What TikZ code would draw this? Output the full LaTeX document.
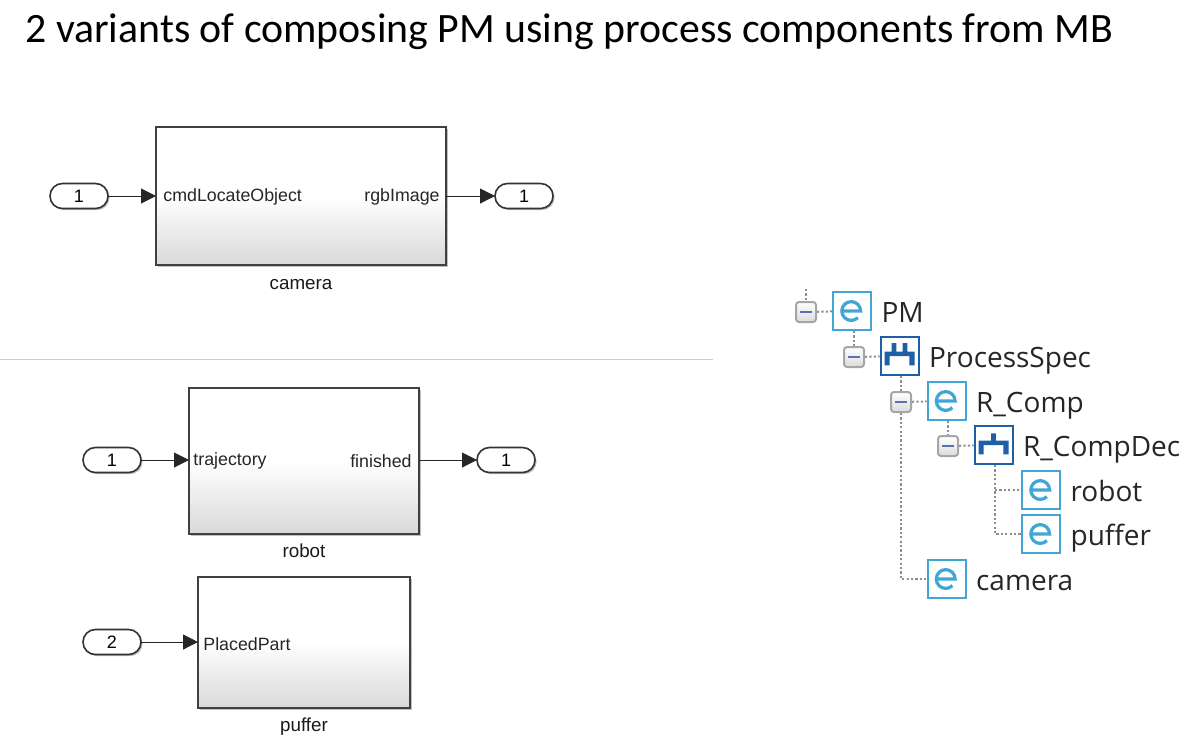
\documentclass[tikz,border=0pt]{standalone}
\usepackage{fontspec}
\setmainfont{Carlito}
\newfontfamily\blockfont{Liberation Sans}
\newfontfamily\treefont{Open Sans}
\usepackage{tikz}
\usetikzlibrary{arrows.meta,shapes.misc,positioning,shadows}
\definecolor{eblue}{HTML}{3FA6D6}
\definecolor{specblue}{HTML}{1F5FA6}
\definecolor{dotgray}{HTML}{8E8E8E}
\definecolor{minusblue}{HTML}{5A70B5}
\tikzset{
  softshadow/.style={drop shadow={shadow xshift=0.8pt, shadow yshift=-0.8pt, opacity=0.25, fill=black}},
  block/.style={draw=black!75, line width=0.9pt, top color=white, bottom color=black!15, middle color=white, softshadow, outer sep=0pt, inner sep=0pt},
  port/.style={draw=black!80, line width=0.8pt, fill=white, rounded corners=6.2pt, minimum width=29pt, minimum height=12.5pt, inner sep=0pt, outer sep=0pt, font=\blockfont\fontsize{9}{10}\selectfont, softshadow},
  portlabel/.style={font=\blockfont\fontsize{8.9}{10}\selectfont, text=black!85, inner sep=0pt, yshift=-0.6pt},
  blockname/.style={font=\blockfont\fontsize{9.4}{10}\selectfont, text=black!90, inner sep=0pt},
  wire/.style={-{Triangle[length=7.5pt,width=7.5pt]}, line width=0.5pt, black!85},
  treeicon/.style={draw=#1, line width=1pt, fill=white, minimum size=19pt, inner sep=0pt, outer sep=0.5pt},
  expander/.style={draw=black!35, line width=1pt, rounded corners=1.5pt, top color=white, bottom color=black!14, minimum size=10pt, inner sep=0pt, outer sep=0.5pt,
    path picture={\draw[line width=0.9pt, minusblue, shift={(path picture bounding box.center)}] (-3pt,0pt) -- (3pt,0pt);}},
  eglyph/.style={treeicon=eblue,
    path picture={\draw[line width=1.6pt, eblue, shift={(path picture bounding box.center)}] (-5pt,0pt) -- (4.3pt,0pt) arc[start angle=0, end angle=315, radius=4.7pt];}},
  specglyph/.style={treeicon=specblue,
    path picture={\fill[specblue, shift={(path picture bounding box.center)}]
      (-7.5pt,0pt) rectangle (7.5pt,2.2pt) (-7.5pt,-4.7pt) rectangle (-4.9pt,2pt) (4.9pt,-4.7pt) rectangle (7.5pt,2pt)
      (-3.9pt,0pt) rectangle (-1.6pt,6.4pt) (1.6pt,0pt) rectangle (3.9pt,6.4pt);}},
  decglyph/.style={treeicon=specblue,
    path picture={\fill[specblue, shift={(path picture bounding box.center)}]
      (-7.5pt,0pt) rectangle (7.5pt,2.2pt) (-7.5pt,-4.7pt) rectangle (-4.9pt,2pt) (4.9pt,-4.7pt) rectangle (7.5pt,2pt)
      (-1.2pt,0pt) rectangle (1.2pt,5.8pt);}},
  treelabel/.style={font=\treefont\fontsize{14}{16}\selectfont, text=black!85, inner sep=0pt, anchor=base west, xshift=4.6pt, yshift=-5.7pt},
  treeline/.style={dotgray, line width=1pt, dash pattern=on 1.1pt off 1.1pt}
}

\begin{document}
\begin{tikzpicture}[x=0.5pt,y=-0.5pt]
\useasboundingbox (0,0) rectangle (1202,736);
% Title
\node[font=\fontsize{20.9}{24}\selectfont, anchor=west, inner sep=0pt] (title) at (25,32) {2 variants of composing PM using process components from MB};
% Separator
\coordinate (sepl) at (0,359);
\coordinate (sepr) at (713,359);
\draw[black!20, line width=0.5pt] (sepl) -- (sepr);
% Blocks
\node[block, minimum width=145pt, minimum height=69pt] (camera) at (301,196) {};
\node[block, minimum width=115pt, minimum height=73pt] (robot) at (304,461) {};
\node[block, minimum width=106pt, minimum height=65.5pt] (puffer) at (304,642.5) {};
\node[blockname, below=6.8pt of camera] (lcamera) {camera};
\node[blockname, below=4.5pt of robot] (lrobot) {robot};
\node[blockname, below=4.8pt of puffer] (lpuffer) {puffer};
% Ports
\foreach \nm/\px/\py/\l in {incam/79/196/1,outcam/524/196/1,inrob/112/460/1,outrob/506/460/1,inpuf/112/642/2} {
  \node[port] (\nm) at (\px,\py) {\l};
}
% Port labels
\node[portlabel, anchor=west, xshift=3.5pt] (cmd) at (camera.west) {cmdLocateObject};
\node[portlabel, anchor=east, xshift=-3pt] (rgb) at (camera.east) {rgbImage};
\node[portlabel, anchor=west, xshift=2pt] (traj) at (robot.west |- inrob) {trajectory};
\node[portlabel, anchor=east, xshift=-3.5pt] (fin) at (robot.east |- inrob) {finished};
\node[portlabel, anchor=west, xshift=2.5pt] (placed) at (puffer.west) {PlacedPart};
% Wires
\draw[wire] (incam) -- (camera);
\draw[wire] (camera) -- (outcam);
\draw[wire] (inrob) -- (inrob -| robot.west);
\draw[wire] (outrob -| robot.east) -- (outrob);
\draw[wire] (inpuf) -- (inpuf -| puffer.west);
% Tree icons
\foreach \nm/\px/\py/\l in {pm/852/311/PM,rcomp/946.5/401/R\_Comp,rob/1041/490/robot,puf/1041/534/puffer,cam/946.5/579/camera} {
  \node[eglyph] (\nm) at (\px,\py) {};
  \node[treelabel] (l\nm) at (\nm.east) {\l};
}
\node[specglyph] (spec) at (899.5,356) {};
\node[treelabel] (lspec) at (spec.east) {ProcessSpec};
\node[decglyph] (dec) at (993.5,445) {};
\node[treelabel] (ldec) at (dec.east) {R\_CompDec};
% Expanders
\foreach \nm/\px/\py in {xpm/806/312,xspec/854/357,xrcomp/901/402,xdec/948/446} {
  \node[expander] (\nm) at (\px,\py) {};
}
% Tree lines
\coordinate (root) at (806,289);
\draw[treeline] (root) -- (xpm);
\draw[treeline] (xpm) -- (pm);
\draw[treeline] (xspec |- pm.south) -- (xspec);
\draw[treeline] (xspec) -- (spec);
\draw[treeline] (xrcomp |- spec.south) -- (xrcomp);
\draw[treeline] (xrcomp) -- (rcomp);
\draw[treeline] (xdec |- rcomp.south) -- (xdec);
\draw[treeline] (xdec) -- (dec);
\draw[treeline] (xrcomp.south) |- (cam);
\coordinate (decfoot) at (995,465);
\draw[treeline] (decfoot) |- (puf);
\draw[treeline] (decfoot |- rob) -- (rob);
\end{tikzpicture}
\end{document}
